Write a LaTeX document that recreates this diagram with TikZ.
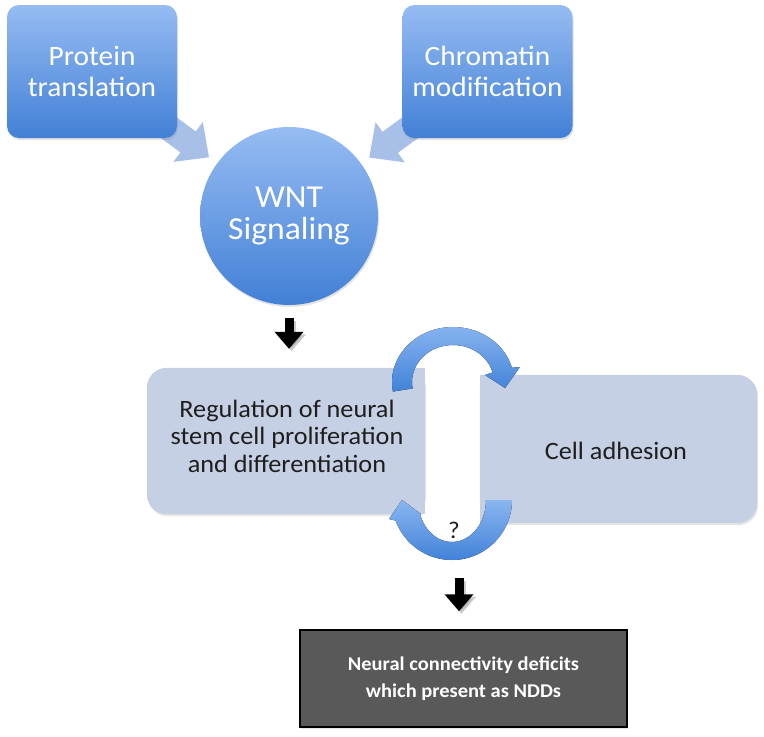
\documentclass[tikz,border=0pt]{standalone}
\usepackage{fontspec}
\setmainfont[FakeStretch=1.05]{Carlito}
\usetikzlibrary{arrows.meta,calc,shadows,backgrounds}
\definecolor{tbtop}{RGB}{150,188,242}
\definecolor{tbbot}{RGB}{66,128,214}
\definecolor{barrow}{RGB}{168,191,231}
\definecolor{lbox}{RGB}{198,208,229}
\definecolor{arctop}{RGB}{138,182,240}
\definecolor{arcbot}{RGB}{66,130,216}
\definecolor{darkbox}{RGB}{89,89,89}
\definecolor{qtext}{RGB}{30,30,30}
\tikzset{
  topbox/.style={rectangle, rounded corners=12pt, minimum width=170pt, minimum height=133pt,
    top color=tbtop, bottom color=tbbot, draw=none, text=white, align=center,
    font=\fontsize{28}{31}\selectfont,
    drop shadow={opacity=0.22, shadow xshift=1pt, shadow yshift=-2pt}},
  wntnode/.style={circle, minimum size=178pt, inner sep=0pt, top color=tbtop, bottom color=tbbot,
    draw=none, text=white, align=center, font=\fontsize{32}{32}\selectfont,
    drop shadow={opacity=0.22, shadow xshift=1pt, shadow yshift=-2pt}},
  blockarrow/.style={line width=26pt, draw=barrow, -{Triangle[length=26pt,width=48pt]},
    shorten <=-30pt, shorten >=10pt},
  flatbox/.style={rectangle, draw=none, fill=none, minimum height=146pt},
  boxtext/.style={align=center, text=qtext, font=\fontsize{25}{27.5}\selectfont},
  darknode/.style={rectangle, minimum width=327pt, minimum height=97pt, fill=darkbox,
    draw=black, line width=1.5pt, text=white, align=center,
    font=\bfseries\fontsize{19.5}{27}\selectfont,
    drop shadow={opacity=0.2, shadow xshift=1pt, shadow yshift=-2pt}},
  blackarrow/.style={line width=9pt, draw=black, -{Triangle[length=17pt,width=28pt]}},
  arrowshadow/.style={line width=9pt, draw=black!45, opacity=0.45, -{Triangle[length=17pt,width=28pt]}},
  arcshade/.style={top color=arctop, bottom color=arcbot, draw=none},
}
\begin{document}
\begin{tikzpicture}[x=1pt,y=-1pt]
\useasboundingbox (0,0) rectangle (764,737);

% top boxes and WNT circle
\node[topbox] (prot) at (92,71.5) {Protein\\translation};
\node[topbox] (chrom) at (487.5,71.5) {Chromatin\\modification};
\node[wntnode] (wnt) at (289,216) {WNT\\Signaling};

% middle boxes
\node[flatbox, minimum width=278pt] (reg) at (286,441) {};
\node[flatbox, minimum width=277pt, minimum height=148pt] (cell) at (618.5,449) {};

\begin{scope}[on background layer]
  \fill[white] (0,0) rectangle (764,737);
  % light block arrows (behind)
  \draw[blockarrow] (prot) -- (wnt);
  \draw[blockarrow] (chrom) -- (wnt);
  % box fills
  \fill[black, opacity=0.10, rounded corners=20pt] ([shift={(1,2)}]reg.north west) rectangle ([shift={(1,2)}]reg.south east);
  \fill[black, opacity=0.10, rounded corners=20pt] ([shift={(1,2)}]cell.north west) rectangle ([shift={(1,2)}]cell.south east);
  \fill[lbox, rounded corners=20pt] (reg.north west) rectangle (reg.south east);
  \fill[lbox] (reg.north) rectangle (reg.south east);
  \fill[lbox, rounded corners=20pt] (cell.north west) rectangle (cell.south east);
  \fill[lbox] (cell.north west) rectangle (cell.south);
\end{scope}
\node[boxtext] (regtxt) at (287,436) {Regulation of neural\\stem cell proliferation\\and differentiation};
\node[boxtext] (celltxt) at (616,451) {Cell adhesion};

% circular arrows
\coordinate (c1) at (453,382);
\coordinate (c2) at (452,500);
\fill[arcshade] ($(c1)+(170:61 and 55)$) arc[start angle=170, end angle=345, x radius=61, y radius=55]
  -- ($(c1)+(67,-15)$) -- ($(c1)+(52,6)$) -- ($(c1)+(32,-7)$)
  -- ($(c1)+(345:41 and 37)$) arc[start angle=345, end angle=170, x radius=41, y radius=37] -- cycle;
\fill[arcshade] ($(c2)+(0:60 and 60)$) arc[start angle=0, end angle=160, x radius=60, y radius=60]
  -- ($(c2)+(-63,19)$) -- ($(c2)+(-50,0)$) -- ($(c2)+(-31,14)$)
  -- ($(c2)+(160:34 and 42)$) arc[start angle=160, end angle=0, x radius=34, y radius=42] -- cycle;
\node[text=qtext, font=\fontsize{24}{28}\selectfont] (q) at (454,530) {?};

% bottom dark box
\node[darknode] (ndd) at (463.5,678.5) {Neural connectivity deficits\\which present as NDDs};

% black arrows
\coordinate (a1) at (289,318);
\coordinate (a2) at (459,578);
\draw[arrowshadow, shorten >=19pt] ([shift={(2.5,2.5)}]a1) -- ([shift={(2.5,2.5)}]a1 |- reg.north);
\draw[blackarrow, shorten >=19pt] (a1) -- (a1 |- reg.north);
\draw[arrowshadow, shorten >=18pt] ([shift={(2.5,2.5)}]a2) -- ([shift={(2.5,2.5)}]a2 |- ndd.north);
\draw[blackarrow, shorten >=18pt] (a2) -- (a2 |- ndd.north);
\end{tikzpicture}
\end{document}
